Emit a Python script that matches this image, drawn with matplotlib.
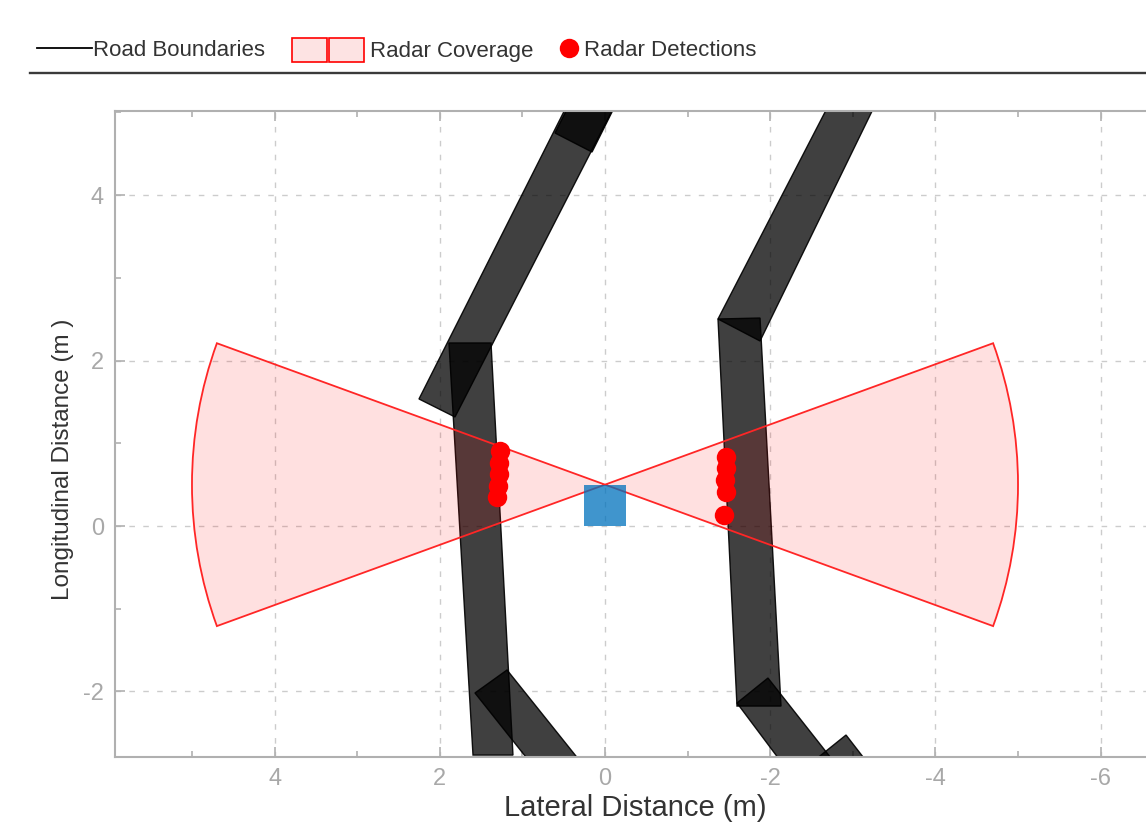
import matplotlib
matplotlib.use("Agg")
import matplotlib.pyplot as plt
from matplotlib.patches import Polygon, Wedge, Rectangle
from matplotlib.lines import Line2D
from matplotlib.legend_handler import HandlerTuple
from matplotlib.ticker import MultipleLocator

plt.rcParams['font.family'] = ['Liberation Sans', 'DejaVu Sans']
plt.rcParams['axes.unicode_minus'] = False

# road boundary strips (corner points, m)
left_road_x = [[1.598, 1.114, 1.380, 1.889],
               [2.252, 1.816, -0.400, 0.182],
               [0.605, 0.157, -0.642, -0.085],
               [1.574, 1.186, 0.024, 0.642]]
left_road_y = [[-2.77, -2.77, 2.213, 2.213],
               [1.536, 1.318, 5.635, 5.635],
               [4.752, 4.522, 6.12, 6.12],
               [-2.019, -1.741, -3.19, -3.19]]
right_road_x = [[-1.368, -1.877, -2.131, -1.598],
                [-1.368, -1.877, -3.535, -2.990],
                [-1.598, -1.973, -3.039, -2.385],
                [-2.542, -2.918, -3.668, -3.039]]
right_road_y = [[2.503, 2.515, -2.177, -2.177],
                [2.503, 2.237, 5.635, 5.635],
                [-2.140, -1.838, -3.19, -3.19],
                [-2.829, -2.527, -3.495, -3.495]]

# radar coverage
radar_center = (0.0, 0.5)
radar_range = 5.0
radar_yaw = [0, 180]
radar_fov = 40

# radar detections
det_left_x = [1.271, 1.283, 1.283, 1.295, 1.308]
det_left_y = [0.907, 0.762, 0.629, 0.484, 0.351]
det_right_x = [-1.465, -1.465, -1.453, -1.465, -1.441]
det_right_y = [0.834, 0.701, 0.556, 0.411, 0.133]

# ego vehicle
ego_x, ego_y, ego_len, ego_wid = -0.25, 0.0, 0.5, 0.5

fig = plt.figure(figsize=(11.46, 8.25), dpi=100)
ax = fig.add_axes([115 / 1146, 68 / 825, 1045 / 1146, 646 / 825])
ax.set_xlim(5.932, -6.719)
ax.set_ylim(-2.793, 5.018)

for xs, ys in zip(left_road_x + right_road_x, left_road_y + right_road_y):
    ax.add_patch(Polygon(list(zip(xs, ys)), closed=True, facecolor=(0, 0, 0, 0.75),
                         edgecolor=(0, 0, 0, 0.9), linewidth=1, zorder=2))

for yaw in radar_yaw:
    ax.add_patch(Wedge(radar_center, radar_range, yaw - radar_fov / 2, yaw + radar_fov / 2,
                       facecolor=(1, 0, 0, 0.12), edgecolor=(1, 0.15, 0.15), linewidth=1.3, zorder=3))

ax.add_patch(Rectangle((ego_x, ego_y), ego_wid, ego_len, facecolor='#0072bd', alpha=0.75,
                       edgecolor='none', zorder=4))

ax.plot(det_left_x + det_right_x, det_left_y + det_right_y, 'o', color='red',
        markersize=14, markeredgewidth=0, zorder=5)

ax.xaxis.set_major_locator(MultipleLocator(2))
ax.xaxis.set_minor_locator(MultipleLocator(1))
ax.yaxis.set_major_locator(MultipleLocator(2))
ax.yaxis.set_minor_locator(MultipleLocator(1))
ax.tick_params(which='both', direction='in', top=True, right=True, colors='#b0b0b0',
               labelcolor='#a8a8a8', labelsize=17)
ax.tick_params(which='major', length=7, width=1.2)
ax.tick_params(which='minor', length=4, width=1.2)
ax.tick_params(axis='x', pad=8)
ax.tick_params(axis='y', pad=8)
ax.grid(True, which='major', linestyle=(0, (4, 6)), color='#cccccc', linewidth=1)
ax.set_axisbelow(True)
for sp in ax.spines.values():
    sp.set_color('#b0b0b0')
    sp.set_linewidth(1.5)

ax.set_xlabel('Lateral Distance (m)', fontsize=21, color='#333333')
ax.xaxis.set_label_coords((635 - 115) / 1045, -(808 - 757) / 646)
ax.set_ylabel('Longitudinal Distance (m )', fontsize=17.5, color='#333333')
ax.yaxis.set_label_coords((63 - 115) / 1045, (757 - 459) / 646)
ax.xaxis.label.set_verticalalignment('center')
ax.yaxis.label.set_verticalalignment('center')

# legend strip at top
ly = 1 - 50 / 825
road_h = Line2D([], [], color='black', linewidth=1.3)
fig.legend(handles=[road_h], labels=['Road Boundaries'], loc='center left',
           bbox_to_anchor=(37 / 1146, ly), frameon=False, fontsize=16, borderpad=0,
           borderaxespad=0, handlelength=2.48, handletextpad=0.04, labelcolor='#333333')
cov_h = (Rectangle((0, 0), 1, 1, facecolor='#fde3e3', edgecolor='red', linewidth=1.2),
         Rectangle((0, 0), 1, 1, facecolor='#fde3e3', edgecolor='red', linewidth=1.2))
fig.legend(handles=[cov_h], labels=['Radar Coverage'], loc='center left',
           bbox_to_anchor=(292 / 1146, ly), frameon=False, fontsize=16, borderpad=0,
           borderaxespad=0, handlelength=3.24, handleheight=1.26, handletextpad=0.27,
           labelcolor='#333333', handler_map={tuple: HandlerTuple(ndivide=None, pad=0.13)})
det_h = Line2D([], [], marker='o', linestyle='none', color='red', markersize=14,
               markeredgewidth=0)
fig.legend(handles=[det_h], labels=['Radar Detections'], loc='center left',
           bbox_to_anchor=(560 / 1146, ly), frameon=False, fontsize=16, borderpad=0,
           borderaxespad=0, handlelength=0.85, handletextpad=0.25, labelcolor='#333333')
fig.add_artist(Line2D([30 / 1146, 1.0], [1 - 73 / 825] * 2, color='#3a3a3a', linewidth=1.7))

fig.savefig('out.png', dpi=100)
